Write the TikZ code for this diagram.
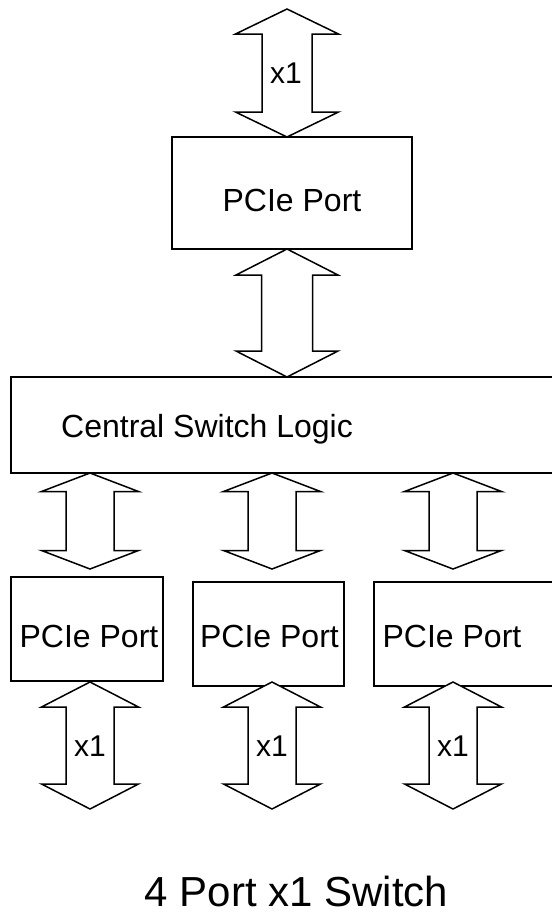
\documentclass[tikz,border=0pt]{standalone}
\usepackage{fontspec}
\setmainfont{Liberation Sans}
\usetikzlibrary{calc}

% Double-headed block arrow between two tips on one vertical line.
% #1 upper tip, #2 lower tip, #3 head length, #4 head half-width, #5 shaft half-width
\newcommand{\blockarrow}[5]{%
  \draw[barrow] let \p1=(#1), \p2=(#2) in
    (\x1,\y1) -- (\x1+#4,\y1-#3) -- (\x1+#5,\y1-#3) -- (\x1+#5,\y2+#3)
    -- (\x1+#4,\y2+#3) -- (\x1,\y2) -- (\x1-#4,\y2+#3) -- (\x1-#5,\y2+#3)
    -- (\x1-#5,\y1-#3) -- (\x1-#4,\y1-#3) -- cycle;}

\begin{document}
\begin{tikzpicture}[x=1pt,y=-1pt,
  box/.style={draw=black, line width=1.5pt, fill=white, inner sep=0pt, outer sep=0pt},
  barrow/.style={draw=black, line width=1.5pt, fill=white, line join=miter},
  boxtext/.style={font=\fontsize{32}{38}\selectfont, anchor=base, inner sep=0pt},
  lanetext/.style={font=\fontsize{30}{36}\selectfont, inner sep=0pt},
  titletext/.style={font=\fontsize{42}{50}\selectfont, anchor=base, inner sep=0pt}]

\useasboundingbox (0,0) rectangle (552,914);
\fill[white] (0,0) rectangle (552,914);
\clip (0,0) rectangle (552,914);

% upstream port
\node[box, minimum width=240pt, minimum height=112pt] (p0) at (292,193) {};
\node[boxtext] at (292,211) {PCIe Port};

% switch core (runs past the right edge)
\node[box, minimum width=589pt, minimum height=96pt] (csl) at (305.5,425) {};
\node[boxtext, anchor=base west] at (61,437) {Central Switch Logic};

% downstream ports
\node[box, minimum width=152pt, minimum height=104pt] (p1) at (87,629) {};
\node[box, minimum width=151pt, minimum height=104pt] (p2) at (268.5,634) {};
\node[box, minimum width=200pt, minimum height=104pt] (p3) at (474,634) {};
\node[boxtext] at (89,647) {PCIe Port};
\node[boxtext] at (269.5,647) {PCIe Port};
\node[boxtext] at (452,647) {PCIe Port};

% arrow end points
\coordinate (t0) at (287,9);
\coordinate (d1) at (90,569);
\coordinate (d2) at (272,569);
\coordinate (d3) at (453,569);
\coordinate (u1) at (90,682);
\coordinate (u2) at (272,682);
\coordinate (u3) at (453,682);
\coordinate (e1) at (90,809);
\coordinate (e2) at (272,809);
\coordinate (e3) at (453,809);

% upstream link and internal link
\blockarrow{t0}{t0 |- p0.north}{25pt}{51.5pt}{25pt}
\node[lanetext] at (286,73) {x1};
\blockarrow{t0 |- p0.south}{t0 |- csl.north}{26pt}{51pt}{25.5pt}

% core to downstream ports
\blockarrow{d1 |- csl.south}{d1}{18.5pt}{48.5pt}{24pt}
\blockarrow{d2 |- csl.south}{d2}{18.5pt}{48.5pt}{24pt}
\blockarrow{d3 |- csl.south}{d3}{18.5pt}{48.5pt}{24pt}

% downstream links
\blockarrow{u1}{e1}{25pt}{48.5pt}{24pt}
\blockarrow{u2}{e2}{25pt}{48.5pt}{24pt}
\blockarrow{u3}{e3}{25pt}{48.5pt}{24pt}
\node[lanetext] at (90,746) {x1};
\node[lanetext] at (272,746) {x1};
\node[lanetext] at (453,746) {x1};

% caption
\node[titletext] at (296.5,906) {4 Port x1 Switch};
\end{tikzpicture}
\end{document}
